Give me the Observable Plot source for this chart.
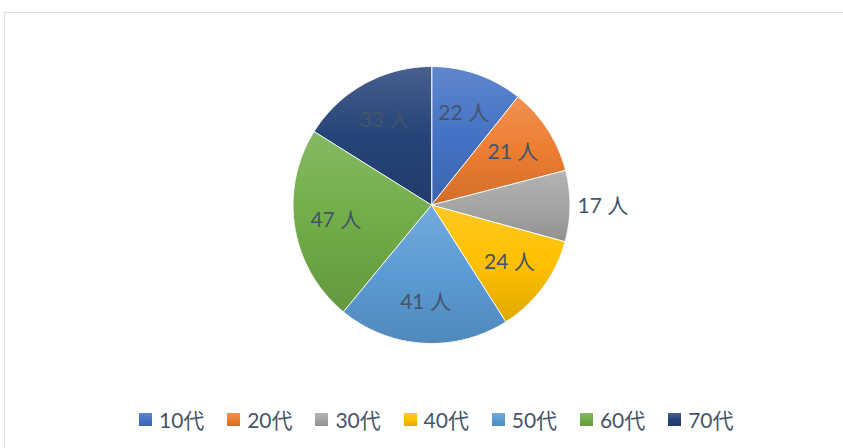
<!DOCTYPE html>
<html>
<head>
<meta charset="utf-8">
<script src="https://cdn.jsdelivr.net/npm/d3@7"></script>
<script src="https://cdn.jsdelivr.net/npm/@observablehq/plot@0.6"></script>
<style>
  html, body { margin: 0; padding: 0; background: #fff; }
  body { width: 843px; height: 448px; overflow: hidden; position: relative;
         font-family: Lato, "Noto Sans CJK JP", sans-serif; }
  #frame { position: absolute; left: 4px; top: 12px; width: 900px; height: 500px;
           border: 1.5px solid #DCE1E8; box-sizing: border-box; }
  #chart { position: absolute; left: 0; top: 0; }
  #legend { position: absolute; left: 139px; top: 404px; display: flex; align-items: center;
            height: 30px; color: #44546A; font-size: 21px;
            font-family: Lato, "Noto Sans CJK JP", sans-serif; }
  .item { display: flex; align-items: center; width: 88.2px; }
  .item:last-child { width: auto; }
  .sw { width: 13px; height: 13px; margin-right: 7px; }
</style>
</head>
<body>
<div id="frame"></div>
<div id="chart"></div>
<div id="legend"></div>
<script>
const categories = ["10代", "20代", "30代", "40代", "50代", "60代", "70代"];
const values = [22, 21, 17, 24, 41, 47, 33];
const baseColors = ["#4472C4", "#ED7D31", "#A5A5A5", "#FFC000", "#5B9BD5", "#70AD47", "#264478"];
const unit = "人";
const outsideLabels = ["30代"];

const tint = c => d3.interpolateRgb(c, "#ffffff")(0.15);
const shade = c => d3.interpolateRgb(c, "#000000")(0.12);

const pie = d3.pie().sort(null).startAngle(0).endAngle(2 * Math.PI)(values);

// polygon outline of each slice, computed from the pie layout
const slices = pie.map((p, i) => {
  const pts = [{x: 0, y: 0}];
  const n = Math.max(2, Math.ceil((p.endAngle - p.startAngle) / (Math.PI / 360)));
  for (let k = 0; k <= n; k++) {
    const a = p.startAngle + (p.endAngle - p.startAngle) * k / n;
    pts.push({x: Math.sin(a), y: Math.cos(a)});
  }
  return pts;
});

const labels = pie.map((p, i) => {
  const mid = (p.startAngle + p.endAngle) / 2;
  const out = outsideLabels.includes(categories[i]);
  const r = out ? 1.055 : 0.7;
  return {x: Math.sin(mid) * r, y: Math.cos(mid) * r, text: `${values[i]} ${unit}`, out};
});

const defs = () => {
  const d = d3.create("svg:defs");
  baseColors.forEach((c, i) => {
    const g = d.append("linearGradient").attr("id", "pg" + i)
      .attr("x1", 0).attr("y1", 0).attr("x2", 0).attr("y2", 1);
    g.append("stop").attr("offset", "0%").attr("stop-color", tint(c));
    g.append("stop").attr("offset", "50%").attr("stop-color", c);
    g.append("stop").attr("offset", "100%").attr("stop-color", shade(c));
  });
  return d.node();
};

const font = 'Lato, "Noto Sans CJK JP", sans-serif';

const plot = Plot.plot({
  width: 843,
  height: 400,
  marginLeft: 292.5,
  marginRight: 273.5,
  marginTop: 66,
  marginBottom: 57,
  x: {domain: [-1, 1], axis: null},
  y: {domain: [-1, 1], axis: null},
  style: {background: "transparent", overflow: "visible"},
  marks: [
    defs,
    ...slices.map((pts, i) => Plot.line(pts, {
      x: "x", y: "y", curve: "linear-closed",
      fill: `url(#pg${i})`, stroke: "white", strokeWidth: 1
    })),
    Plot.text(labels.filter(d => !d.out), {
      x: "x", y: "y", text: "text", fill: "#44546A",
      fontSize: 21, fontFamily: font
    }),
    Plot.text(labels.filter(d => d.out), {
      x: "x", y: "y", text: "text", fill: "#44546A",
      fontSize: 21, fontFamily: font, textAnchor: "start"
    })
  ]
});
document.getElementById("chart").appendChild(plot);

const legend = d3.select("#legend");
categories.forEach((c, i) => {
  const it = legend.append("div").attr("class", "item");
  it.append("div").attr("class", "sw")
    .style("background", `linear-gradient(to bottom, ${tint(baseColors[i])}, ${baseColors[i]} 50%, ${shade(baseColors[i])})`);
  it.append("span").text(c);
});
</script>
</body>
</html>
